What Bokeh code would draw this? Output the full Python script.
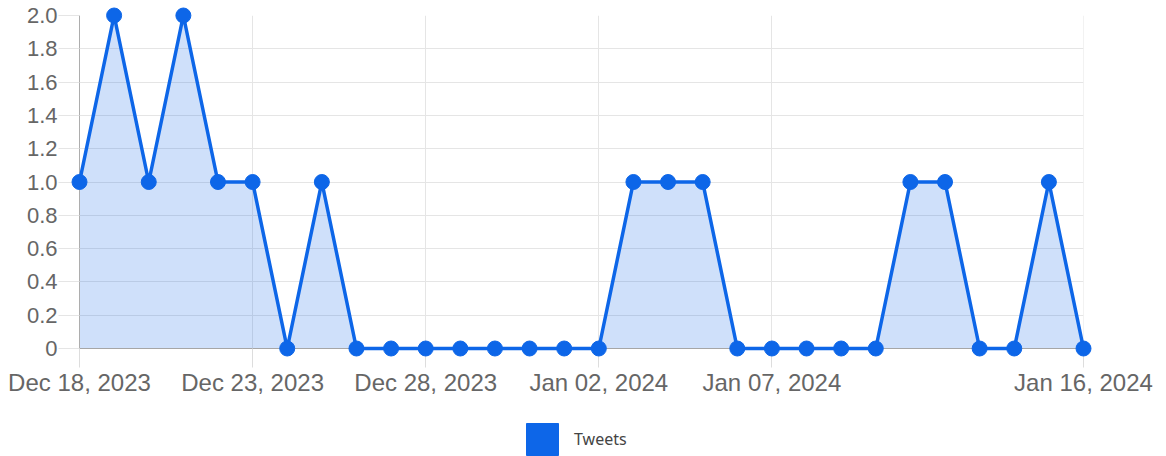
import pandas as pd
from bokeh.plotting import figure
from bokeh.layouts import column
from bokeh.models import (Range1d, FixedTicker, DatetimeTickFormatter, NumeralTickFormatter,
                          Legend, LegendItem, ColumnDataSource)
from bokeh.embed import file_html
from bokeh.resources import INLINE

dates = ["2023-12-18", "2023-12-19", "2023-12-20", "2023-12-21", "2023-12-22", "2023-12-23",
         "2023-12-24", "2023-12-25", "2023-12-26", "2023-12-27", "2023-12-28", "2023-12-29",
         "2023-12-30", "2023-12-31", "2024-01-01", "2024-01-02", "2024-01-03", "2024-01-04",
         "2024-01-05", "2024-01-06", "2024-01-07", "2024-01-08", "2024-01-09", "2024-01-10",
         "2024-01-11", "2024-01-12", "2024-01-13", "2024-01-14", "2024-01-15", "2024-01-16"]
tweets = [1, 2, 1, 2, 1, 1, 0, 1, 0, 0, 0, 0, 0, 0, 0, 0, 1, 1, 1, 0, 0, 0, 0, 0, 1, 1, 0, 0, 1, 0]
x_tick_dates = ["2023-12-18", "2023-12-23", "2023-12-28", "2024-01-02", "2024-01-07", "2024-01-16"]
y_ticks = [0, 0.2, 0.4, 0.6, 0.8, 1.0, 1.2, 1.4, 1.6, 1.8, 2.0]
series_name = "Tweets"

BLUE = "#0d66e8"
GRID = "#e5e5e5"
FONT = "Liberation Sans"

x = pd.to_datetime(dates)
src = ColumnDataSource(dict(x=x, y=tweets, base=[0] * len(tweets)))

p = figure(frame_width=1004, frame_height=333, output_backend="svg", toolbar_location=None,
           x_axis_type="datetime",
           x_range=Range1d(x[0], x[-1]), y_range=Range1d(0, 2),
           min_border_left=79, min_border_right=75, min_border_top=15, min_border_bottom=60)
p.outline_line_color = None

p.varea(x="x", y1="base", y2="y", source=src, fill_color=BLUE, fill_alpha=0.2)
p.line(x="x", y="y", source=src, line_color=BLUE, line_width=3.5, level="overlay")
p.scatter(x="x", y="y", source=src, size=15, fill_color=BLUE, line_color=BLUE, level="overlay")

# x axis
xt = [pd.Timestamp(d).value // 10**6 for d in x_tick_dates]
p.xaxis.ticker = FixedTicker(ticks=xt)
p.xaxis.formatter = DatetimeTickFormatter(days="%b %d, %Y", months="%b %d, %Y", years="%b %d, %Y")
p.xaxis.minor_tick_line_color = None
p.xaxis.major_tick_in = 0
p.xaxis.major_tick_out = 19
p.xaxis.major_tick_line_color = "#dddddd"
p.xaxis.axis_line_color = "#a6a6a6"
p.xaxis.major_label_text_font = FONT
p.xaxis.major_label_text_font_size = "24px"
p.xaxis.major_label_text_color = "#666666"
p.xaxis.major_label_standoff = 1
p.xgrid.ticker = FixedTicker(ticks=xt)
p.xgrid.grid_line_color = GRID

# y axis
p.yaxis.ticker = FixedTicker(ticks=y_ticks)
p.yaxis.formatter = NumeralTickFormatter(format="0.0")
p.yaxis.major_label_overrides = {0: "0"}
p.yaxis.minor_tick_line_color = None
p.yaxis.major_tick_in = 0
p.yaxis.major_tick_out = 21
p.yaxis.major_tick_line_color = GRID
p.yaxis.axis_line_color = "#adadad"
p.yaxis.major_label_text_font = FONT
p.yaxis.major_label_text_font_size = "22px"
p.yaxis.major_label_text_color = "#666666"
p.yaxis.major_label_standoff = 1
p.ygrid.ticker = FixedTicker(ticks=y_ticks)
p.ygrid.grid_line_color = GRID

# right edge grid line
p.segment(x0=[x[-1]], y0=[0], x1=[x[-1]], y1=[2], line_color=GRID, line_width=1)

# legend in a separate strip below the chart
lg = figure(width=1158, height=48, output_backend="svg", toolbar_location=None,
            x_range=Range1d(0, 1), y_range=Range1d(0, 1),
            x_axis_location=None, y_axis_location=None,
            min_border_left=0, min_border_right=0, min_border_top=0, min_border_bottom=0)
lg.outline_line_color = None
lg.xgrid.visible = False
lg.ygrid.visible = False
# swatch glyph kept outside the visible range; only its legend entry is seen
dummy = lg.quad(left=[5], right=[6], top=[6], bottom=[5], fill_color=BLUE, line_color=BLUE)
legend = Legend(items=[LegendItem(label=series_name, renderers=[dummy])],
                orientation="horizontal", location=(443, -3),
                glyph_width=40, glyph_height=40, label_standoff=12,
                label_text_font="Noto Sans", label_text_font_size="16px",
                label_text_color="#444444",
                border_line_alpha=0, background_fill_alpha=0,
                margin=0, padding=0)
lg.add_layout(legend, "center")

layout = column(p, lg, spacing=0)
open("out.html", "w").write(file_html(layout, INLINE))
